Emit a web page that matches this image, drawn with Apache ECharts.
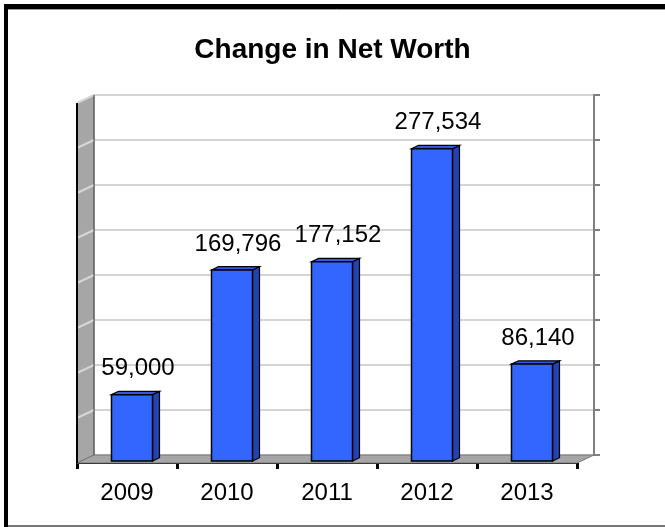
<!DOCTYPE html>
<html><head><meta charset="utf-8">
<script src="https://cdn.jsdelivr.net/npm/echarts@6/dist/echarts.min.js"></script>
<style>html,body{margin:0;padding:0;background:#fff}#c{width:665px;height:527px}</style>
</head><body><div id="c"></div>
<script>
const categories = ['2009', '2010', '2011', '2012', '2013'];
const netWorthChange = [59000, 169796, 177152, 277534, 86140];
const yMax = 320000;
const yStep = 40000;

const FONT = '"Liberation Sans", Arial, sans-serif';
const DX = 17, DY = -8;          // depth of the 3D box
const FRONT = [5, -2], BACK = [12, -5.3]; // bar depth placement
const HALF_W = 20.5;

function fmt(v) { return v.toLocaleString('en-US'); }

function frameItem(params, api) {
  const band = api.size([1, 0])[0];
  const x0 = api.coord([0, 0])[0] - band / 2;
  const x1 = api.coord([categories.length - 1, 0])[0] + band / 2;
  const yb = api.coord([0, 0])[1];
  const yt = api.coord([0, yMax])[1];
  const ch = [];
  ch.push({ type: 'polygon', shape: { points: [[x0, yt], [x0 + DX, yt + DY], [x0 + DX, yb + DY], [x0, yb]] },
    style: { fill: '#a6a6a6', stroke: '#666', lineWidth: 1 } });
  for (let v = yStep; v <= yMax; v += yStep) {
    const y = api.coord([0, v])[1];
    ch.push({ type: 'line', shape: { x1: x0, y1: y, x2: x0 + DX, y2: y + DY },
      style: { stroke: '#d6d6d6', lineWidth: 2 } });
  }
  ch.push({ type: 'polygon', shape: { points: [[x0, yb], [x1, yb], [x1 + DX, yb + DY], [x0 + DX, yb + DY]] },
    style: { fill: '#a6a6a6', stroke: '#777', lineWidth: 1 } });
  ch.push({ type: 'line', shape: { x1: x0 + DX, y1: yt + DY, x2: x0 + DX, y2: yb + DY }, style: { stroke: '#555', lineWidth: 1 } });
  ch.push({ type: 'line', shape: { x1: x0, y1: yt, x2: x0, y2: yb }, style: { stroke: '#000', lineWidth: 2 } });
  return { type: 'group', children: ch };
}

function barItem(params, api) {
  const i = api.value(0), v = api.value(1);
  const top = api.coord([i, v]);
  const base = api.coord([i, 0]);
  const cx = top[0];
  const L = cx - HALF_W + FRONT[0], R = cx + HALF_W + FRONT[0];
  const T = top[1] + FRONT[1], B = base[1] + FRONT[1];
  const ddx = BACK[0] - FRONT[0], ddy = BACK[1] - FRONT[1];
  return { type: 'group', children: [
    { type: 'polygon', shape: { points: [[R, T], [R + ddx, T + ddy], [R + ddx, B + ddy], [R, B]] },
      style: { fill: '#2243b0', stroke: '#000', lineWidth: 1.2 } },
    { type: 'polygon', shape: { points: [[L, T], [L + ddx, T + ddy], [R + ddx, T + ddy], [R, T]] },
      style: { fill: '#3358e0', stroke: '#000', lineWidth: 1.2 } },
    { type: 'rect', shape: { x: L, y: T, width: R - L, height: B - T },
      style: { fill: '#3366ff', stroke: '#000', lineWidth: 1.5 } },
    { type: 'text', x: cx + 11, y: T - 26,
      style: { text: fmt(v), align: 'center', verticalAlign: 'middle', font: '24px ' + FONT, fill: '#000' } }
  ] };
}

const chart = echarts.init(document.getElementById('c'), null, { renderer: 'canvas' });
chart.setOption({
  animation: false,
  backgroundColor: '#fff',
  title: { text: 'Change in Net Worth', left: 'center', top: 31,
    textStyle: { fontSize: 28, fontWeight: 'bold', color: '#000', fontFamily: FONT } },
  grid: [
    { left: 77, right: 88, top: 103, bottom: 64 },
    { left: 94, right: 71, top: 95, bottom: 72 }
  ],
  xAxis: [
    { gridIndex: 0, type: 'category', data: categories,
      axisLine: { show: true, lineStyle: { color: '#000', width: 2 } },
      axisTick: { show: true, length: 6, lineStyle: { color: '#000', width: 3 } },
      axisLabel: { fontSize: 24, color: '#000', margin: 18, fontFamily: FONT } },
    { gridIndex: 1, type: 'category', data: categories, show: false }
  ],
  yAxis: [
    { gridIndex: 0, type: 'value', min: 0, max: yMax, interval: yStep, show: false },
    { gridIndex: 1, type: 'value', min: 0, max: yMax, interval: yStep, position: 'right',
      axisLine: { show: true, lineStyle: { color: '#7f7f7f', width: 2 } },
      axisTick: { show: true, length: 6, lineStyle: { color: '#7f7f7f', width: 2 } },
      axisLabel: { show: false },
      splitLine: { show: true, lineStyle: { color: '#d4d4d4', width: 2 } } }
  ],
  graphic: [
    { type: 'rect', shape: { x: 4, y: 4, width: 661, height: 5 }, style: { fill: '#000' }, z: 100 },
    { type: 'line', shape: { x1: 8, y1: 9.5, x2: 665, y2: 9.5 }, style: { stroke: '#999', lineWidth: 1 }, z: 100 },
    { type: 'rect', shape: { x: 4, y: 4, width: 4, height: 523 }, style: { fill: '#000' }, z: 100 },
    { type: 'line', shape: { x1: 8, y1: 526, x2: 665, y2: 526 }, style: { stroke: '#777', lineWidth: 2 }, z: 100 }
  ],
  series: [
    { type: 'custom', name: 'frame', xAxisIndex: 0, yAxisIndex: 0, data: [[0, 0]], renderItem: frameItem, silent: true, z: 1 },
    { type: 'custom', name: 'Change in Net Worth', xAxisIndex: 0, yAxisIndex: 0,
      data: netWorthChange.map((v, i) => [i, v]), renderItem: barItem, z: 3 }
  ]
});
</script></body></html>
